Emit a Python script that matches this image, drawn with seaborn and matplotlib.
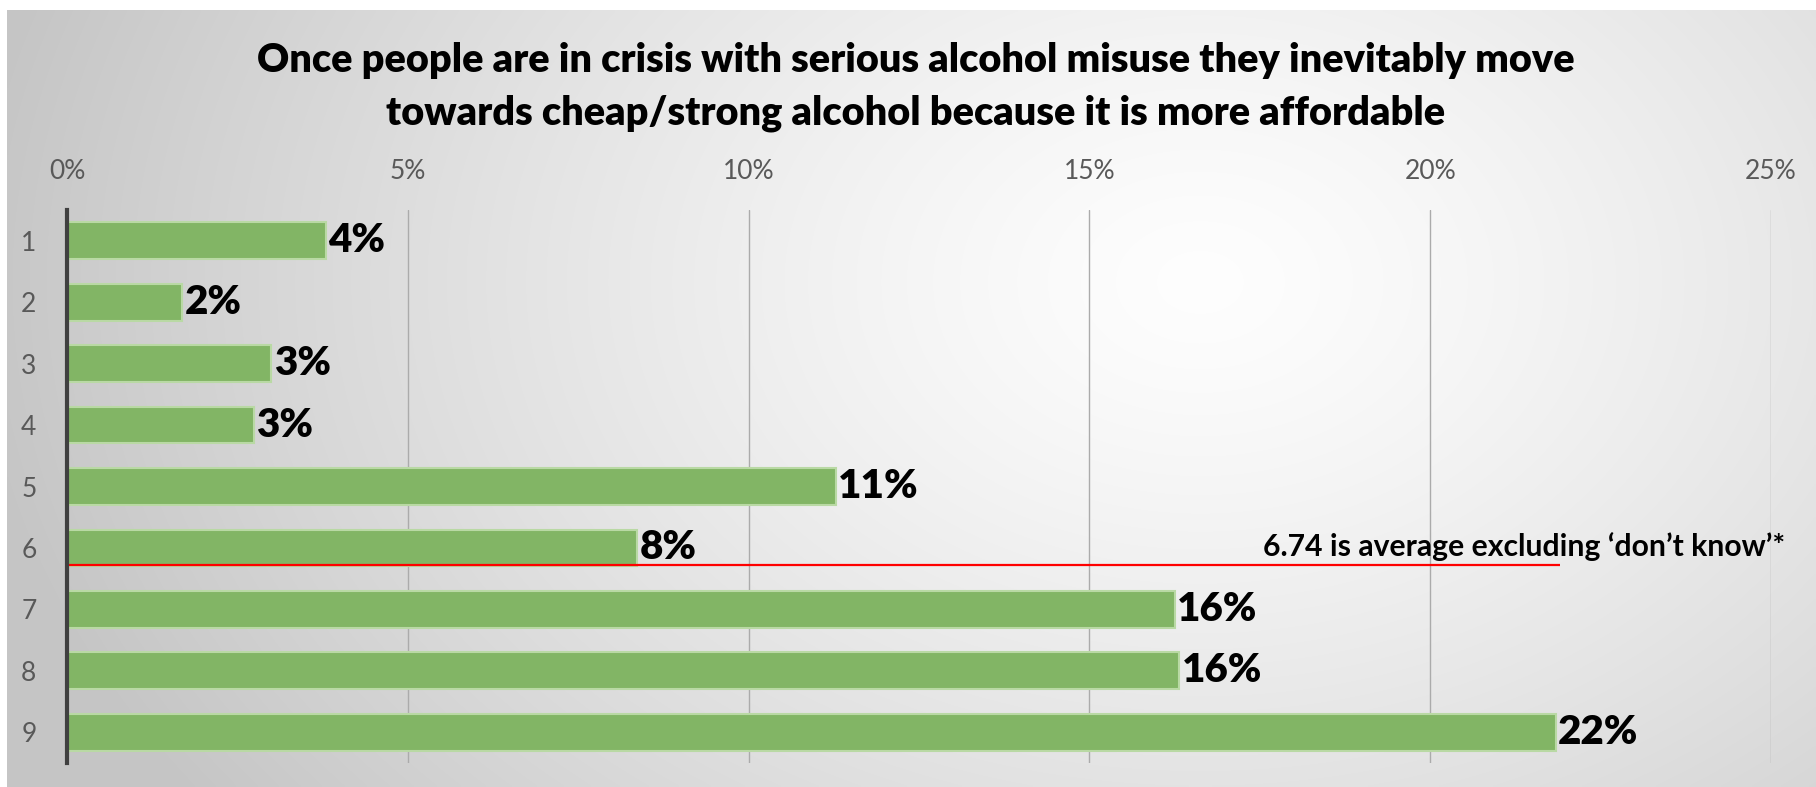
import numpy as np
import pandas as pd
import matplotlib
matplotlib.use("Agg")
import matplotlib.pyplot as plt
import seaborn as sns

# ---- data ----
title = ("Once people are in crisis with serious alcohol misuse they inevitably move\n"
         "towards cheap/strong alcohol because it is more affordable")
scores = ["1", "2", "3", "4", "5", "6", "7", "8", "9"]
shares = [3.80, 1.69, 3.00, 2.75, 11.28, 8.37, 16.26, 16.32, 21.84]
share_labels = ["4%", "2%", "3%", "3%", "11%", "8%", "16%", "16%", "22%"]
x_ticks = [0, 5, 10, 15, 20, 25]
avg_note = "6.74 is average excluding \u2018don\u2019t know\u2019*"
avg_line_pos = 6.27      # where the average marker sits on the score axis
avg_line_end = 21.9      # horizontal extent of the marker (percent)

# ---- style ----
W, H = 1816, 787
sns.set_theme(style="white")
plt.rcParams["font.family"] = ["Lato", "DejaVu Sans"]

BAR = "#82B565"
BAR_EDGE = "#B9D9A4"
TICK = "#595959"

fig = plt.figure(figsize=(W / 100, H / 100), dpi=100)
fig.patch.set_facecolor("white")

# radial grey-to-white backdrop
bg = fig.add_axes([7 / W, 0, 1 - 7 / W, 1 - 10 / H], zorder=-5)
gx, gy = np.meshgrid(np.linspace(0, 1, 600), np.linspace(0, 1, 260))
cx, cy = 0.66, 0.35
t = np.sqrt(((gx - cx) / 0.68) ** 2 + ((gy - cy) / 1.15) ** 2)
t = np.clip(t, 0, 1) ** 1.3
lo, hi = 0.775, 0.995
shade = hi - (hi - lo) * t
bg.imshow(np.dstack([shade] * 3), aspect="auto", extent=[0, 1, 1, 0],
          interpolation="bilinear")
bg.set_axis_off()

# main axes
ax = fig.add_axes([67 / W, 1 - 763 / H, (1771 - 67) / W, (763 - 210) / H])
ax.set_facecolor("none")

df = pd.DataFrame({"score": scores, "share": shares})
sns.barplot(data=df, x="share", y="score", orient="h", color=BAR,
            saturation=1, width=0.6, edgecolor=BAR_EDGE, linewidth=1.5,
            ax=ax, zorder=3)

ax.bar_label(ax.containers[0], labels=share_labels, padding=1.5,
             fontsize=29, fontweight="heavy", color="black")

ax.set_xlim(0, 25)
ax.set_ylim(len(scores) - 0.5, -0.5)
ax.set_xticks(x_ticks)
ax.set_xticklabels([f"{v}%" for v in x_ticks])
ax.xaxis.tick_top()
ax.tick_params(axis="x", length=0, pad=19, labelsize=19, labelcolor=TICK)
ax.tick_params(axis="y", length=0, pad=22, labelsize=19, labelcolor=TICK)
ax.set_xlabel("")
ax.set_ylabel("")

ax.grid(axis="x", color="#ababab", linewidth=1.0, zorder=0)
ax.grid(axis="y", visible=False)
for side in ("top", "right", "bottom"):
    ax.spines[side].set_visible(False)
ax.spines["left"].set_color("#404040")
ax.spines["left"].set_linewidth(3)
ax.spines["left"].set_zorder(5)

# average marker
ypos = avg_line_pos - 1
ax.plot([0, avg_line_end], [ypos, ypos], color="#FF0000", linewidth=1.6,
        zorder=4, solid_capstyle="butt")
ax.text(17.55, ypos - 0.14, avg_note, fontsize=21.7, fontweight="bold",
        color="black", ha="left", va="baseline", zorder=6)

fig.text(916 / W, 1 - 87 / H, title, ha="center", va="center",
         fontsize=28.5, fontweight="heavy", color="black", linespacing=1.5)

fig.savefig("out.png", dpi=100)
